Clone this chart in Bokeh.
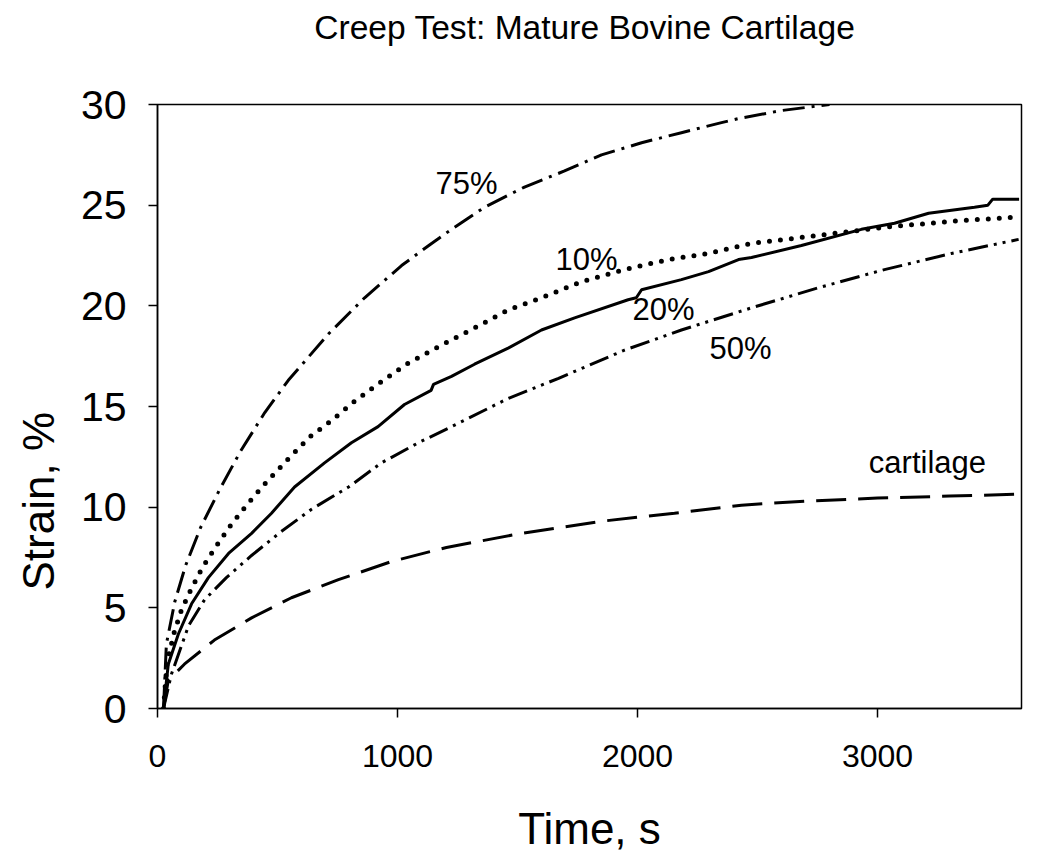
from bokeh.plotting import figure
from bokeh.models import Range1d, FixedTicker, Title, LinearAxis
from bokeh.embed import file_html
from bokeh.resources import INLINE
from bokeh.core.properties import value

FONT = "Liberation Sans"

# ---- data (time in s, strain in %) ----
time_75 = [25, 37, 72, 117, 180, 260, 347, 447, 545, 712, 863, 1017, 1142, 1225, 1363, 1529,
           1696, 1850, 2017, 2183, 2350, 2421, 2600, 2800]
strain_75 = [0, 3.2, 5.3, 7.1, 9.0, 10.9, 12.8, 14.7, 16.3, 18.6, 20.4, 22.0, 23.1, 23.8, 24.9, 25.9,
             26.7, 27.5, 28.1, 28.6, 29.1, 29.3, 29.7, 30.0]

time_10 = [25, 40, 70, 100, 139, 187, 241, 305, 378, 458, 545, 635, 725, 815, 905, 1037, 1175, 1321,
           1461, 1600, 1767, 1946, 2129, 2296, 2475, 2754, 3029, 3308, 3571]
strain_10 = [0, 2.3, 3.8, 4.9, 5.9, 7.0, 8.0, 9.1, 10.2, 11.3, 12.4, 13.5, 14.3, 15.2, 16.0, 17.1, 18.0, 18.9,
             19.8, 20.4, 21.2, 21.8, 22.3, 22.6, 23.1, 23.5, 23.9, 24.2, 24.4]

time_20 = [25, 45, 87, 142, 212, 296, 392, 475, 571, 696, 808, 919, 1029, 1140, 1150, 1225, 1321, 1461,
           1600, 1738, 1961, 1995, 2017, 2183, 2296, 2421, 2475, 2683, 2933, 3071, 3213, 3404, 3460,
           3480, 3590]
strain_20 = [0, 2.2, 3.7, 5.2, 6.5, 7.7, 8.7, 9.7, 11.0, 12.2, 13.2, 14.0, 15.1, 15.8, 16.1, 16.5, 17.1, 17.9,
             18.8, 19.4, 20.3, 20.4, 20.8, 21.3, 21.7, 22.3, 22.4, 23.0, 23.8, 24.1, 24.6, 24.9, 25.0,
             25.3, 25.3]

time_50 = [25, 58, 129, 196, 287, 392, 517, 642, 796, 933, 1087, 1225, 1461, 1671, 1946, 2183, 2475,
           2754, 3029, 3308, 3588]
strain_50 = [0, 1.7, 4.1, 5.4, 6.5, 7.6, 8.8, 9.9, 11.0, 12.2, 13.2, 14.0, 15.4, 16.4, 17.8, 18.8, 19.9,
             20.9, 21.8, 22.6, 23.3]

time_cart = [25, 45, 112, 237, 392, 558, 754, 975, 1204, 1517, 1850, 2154, 2433, 2700, 3000, 3300, 3600]
strain_cart = [0, 1.4, 2.2, 3.4, 4.5, 5.5, 6.4, 7.3, 8.0, 8.7, 9.3, 9.7, 10.1, 10.3, 10.45, 10.55, 10.65]

label_text = ["75%", "10%", "20%", "50%", "cartilage"]
label_t = [1288, 1788, 2108, 2429, 3208]
label_s = [26.1, 22.3, 19.8, 17.9, 12.2]

x_ticks = [0, 1000, 2000, 3000]
y_ticks = [0, 5, 10, 15, 20, 25, 30]

p = figure(frame_width=864, frame_height=604, output_backend="svg", toolbar_location=None,
           x_range=Range1d(0, 3600), y_range=Range1d(0, 30),
           min_border_left=156, min_border_right=20, min_border_top=104, min_border_bottom=150,
           background_fill_color="white", border_fill_color="white")

xax = p.below[0]
yax = p.left[0]

p.xgrid.visible = False
p.ygrid.visible = False
p.outline_line_color = "black"
p.outline_line_width = 1.5

for ax in (xax, yax):
    ax.axis_line_color = "black"
    ax.axis_line_width = 1.5
    ax.major_tick_in = 0
    ax.major_tick_out = 9
    ax.major_tick_line_width = 1.5
    ax.minor_tick_line_color = None
    ax.major_label_text_font = FONT
    ax.major_label_text_color = "black"

xax.ticker = FixedTicker(ticks=x_ticks)
yax.ticker = FixedTicker(ticks=y_ticks)
xax.major_label_text_font_size = "32px"
yax.major_label_text_font_size = "41px"
xax.major_label_standoff = 27
yax.major_label_standoff = 22

xax.axis_label = "Time, s"
xax.axis_label_text_font = FONT
xax.axis_label_text_font_size = "44px"
xax.axis_label_text_font_style = "normal"
xax.axis_label_text_color = "black"
xax.axis_label_standoff = 34

# chart title, carried by an invisible axis above the frame
top_axis = LinearAxis(axis_label="Creep Test:  Mature Bovine Cartilage",
                      ticker=FixedTicker(ticks=[]), axis_line_color=None,
                      major_tick_line_color=None, minor_tick_line_color=None,
                      major_label_text_color=None, major_label_text_font_size="1px",
                      major_label_standoff=0, major_tick_out=0, major_tick_in=0,
                      axis_label_text_font=FONT, axis_label_text_font_size="33.6px",
                      axis_label_text_font_style="normal", axis_label_text_color="black",
                      axis_label_standoff=59)
p.add_layout(top_axis, "above")

ytitle = Title(text="Strain, %", align="left", offset=118, vertical_align="top", standoff=26,
               text_font=FONT, text_font_size="44px", text_font_style="normal", text_color="black")
p.add_layout(ytitle, "left")

p.line(time_75, strain_75, line_color="black", line_width=3, line_dash="22 7 3 7")
p.line(time_10, strain_10, line_color="black", line_width=5, line_dash="0 11", line_cap="round")
p.line(time_20, strain_20, line_color="black", line_width=3)
p.line(time_50, strain_50, line_color="black", line_width=3, line_dash="20 6 3 6 3 6")
p.line(time_cart, strain_cart, line_color="black", line_width=3, line_dash="30 12")

p.text(x=label_t, y=label_s, text=label_text, text_font=value(FONT), text_font_size="31px",
       text_align="center", text_baseline="middle", text_color="black")

open("out.html", "w").write(file_html(p, INLINE))
